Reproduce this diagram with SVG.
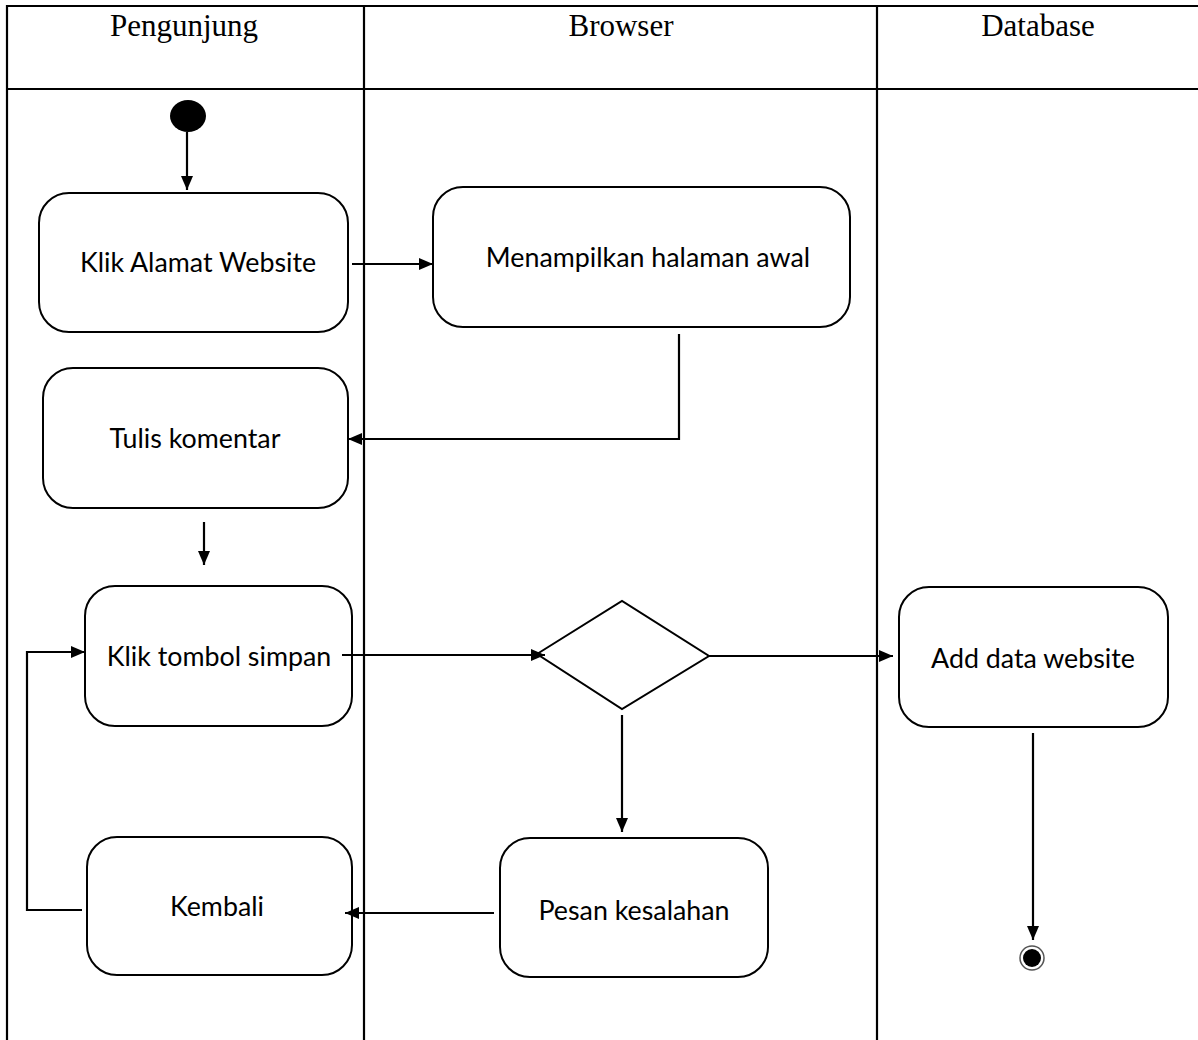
<svg xmlns="http://www.w3.org/2000/svg" width="1198" height="1040" viewBox="0 0 1198 1040">
<defs>
<marker id="ah" viewBox="0 0 14 12" refX="14" refY="6" markerWidth="14" markerHeight="12" markerUnits="userSpaceOnUse" orient="auto">
<path d="M0,0 L14,6 L0,12 z" fill="#000"/>
</marker>
<style>
.lane{stroke:#000;stroke-width:2.2;fill:none}
.hdr{font-family:"Liberation Serif","Times New Roman",serif;font-size:31px;fill:#000;text-anchor:middle}
.act{fill:#fff;stroke:#000;stroke-width:2}
.lbl{font-family:Lato,"Open Sans",sans-serif;font-size:26.8px;fill:#000;text-anchor:middle}
.edge{stroke:#000;stroke-width:2.2;fill:none;marker-end:url(#ah)}
</style>
</defs>
<rect width="1198" height="1040" fill="#fff"/>
<g id="swimlanes">
<line class="lane" x1="7" y1="6" x2="1198" y2="6"/>
<line class="lane" x1="7" y1="89" x2="1198" y2="89"/>
<line class="lane" x1="7" y1="5" x2="7" y2="1040"/>
<line class="lane" x1="364" y1="5" x2="364" y2="1040"/>
<line class="lane" x1="877" y1="5" x2="877" y2="1040"/>
<text class="hdr" x="184" y="36">Pengunjung</text>
<text class="hdr" x="621" y="36">Browser</text>
<text class="hdr" x="1038" y="36">Database</text>
</g>
<g id="start"><ellipse cx="188" cy="116" rx="18" ry="16" fill="#000"/></g>
<g id="klikAlamat"><rect class="act" x="39" y="193" width="309" height="139" rx="30"/><text class="lbl" x="198" y="272">Klik Alamat Website</text></g>
<g id="menampilkan"><rect class="act" x="433" y="187" width="417" height="140" rx="30"/><text class="lbl" x="648" y="267">Menampilkan halaman awal</text></g>
<g id="tulis"><rect class="act" x="43" y="368" width="305" height="140" rx="30"/><text class="lbl" x="195" y="448">Tulis komentar</text></g>
<g id="klikSimpan"><rect class="act" x="85" y="586" width="267" height="140" rx="30"/><text class="lbl" x="219" y="666">Klik tombol simpan</text></g>
<g id="decision"><polygon class="act" points="537,654 622,601 709,656 622,709"/></g>
<g id="addData"><rect class="act" x="899" y="587" width="269" height="140" rx="30"/><text class="lbl" x="1033" y="668">Add data website</text></g>
<g id="pesan"><rect class="act" x="500" y="838" width="268" height="139" rx="30"/><text class="lbl" x="634" y="920">Pesan kesalahan</text></g>
<g id="kembali"><rect class="act" x="87" y="837" width="265" height="138" rx="30"/><text class="lbl" x="217" y="916">Kembali</text></g>
<g id="end"><circle cx="1032" cy="958" r="12" fill="#fff" stroke="#555" stroke-width="1.5"/><circle cx="1032" cy="958" r="9" fill="#000"/></g>
<g id="connectors">
<path class="edge" d="M187,132 L187,190"/>
<path class="edge" d="M352,264 L433,264"/>
<path class="edge" d="M679,334 L679,439 L348,439"/>
<path class="edge" d="M204,522 L204,565"/>
<path class="edge" d="M342,655 L545,655"/>
<path class="edge" d="M709,656 L893,656"/>
<path class="edge" d="M1033,733 L1033,940"/>
<path class="edge" d="M622,715 L622,832"/>
<path class="edge" d="M494,913 L345,913"/>
<path class="edge" d="M82,910 L27,910 L27,652 L85,652"/>
</g>
</svg>
